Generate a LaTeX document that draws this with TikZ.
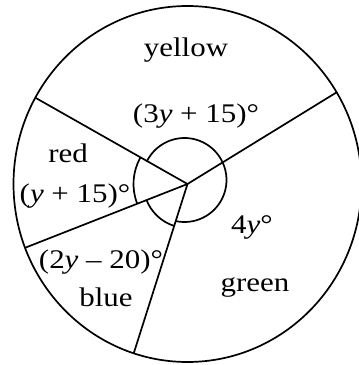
\documentclass[tikz,border=0pt]{standalone}
\usepackage{fontspec}
\setmainfont{Liberation Serif}[FakeStretch=1.15]
\usetikzlibrary{calc}
\begin{document}
\begin{tikzpicture}[x=1bp,y=1bp,line width=1.7bp,
  lbl/.style={anchor=base,inner sep=0pt,font=\fontsize{27}{30}\selectfont}]
\useasboundingbox (0,0) rectangle (359,365);
\coordinate (O) at (187.5,181);
\draw (O) ellipse [x radius=174,y radius=178];

% the four radii
\path (O) ++(31:174 and 178) coordinate (ur);
\path (O) ++(151:174 and 178) coordinate (ul);
\path (O) ++(201:174 and 178) coordinate (ll);
\path (O) ++(252:174 and 178) coordinate (bt);
\draw (O) -- (ur);
\draw (O) -- (ul);
\draw (O) -- (ll);
\draw (O) -- (bt);

% angle marks
\draw ($(O)+(-3,4)$) ++(154:42) arc[start angle=154,end angle=-102.4,radius=42];
\draw (O) ++(151:54) arc[start angle=151,end angle=201,radius=54];
\draw (O) ++(201:44) arc[start angle=201,end angle=252,radius=44];

% labels
\node[lbl] (yel) at (186,309) {yellow};
\node[lbl] (yelang) at (196,243) {(3\textit{y} + 15)°};
\node[lbl] (red) at (68,203) {red};
\node[lbl] (redang) at (75,163) {(\textit{y} + 15)°};
\node[lbl] (bluang) at (101,96.7) {(2\textit{y} – 20)°};
\node[lbl] (blu) at (106,58.3) {blue};
\node[lbl] (grnang) at (252,131.7) {4\textit{y}°};
\node[lbl] (grn) at (255,73.3) {green};

\end{tikzpicture}
\end{document}
